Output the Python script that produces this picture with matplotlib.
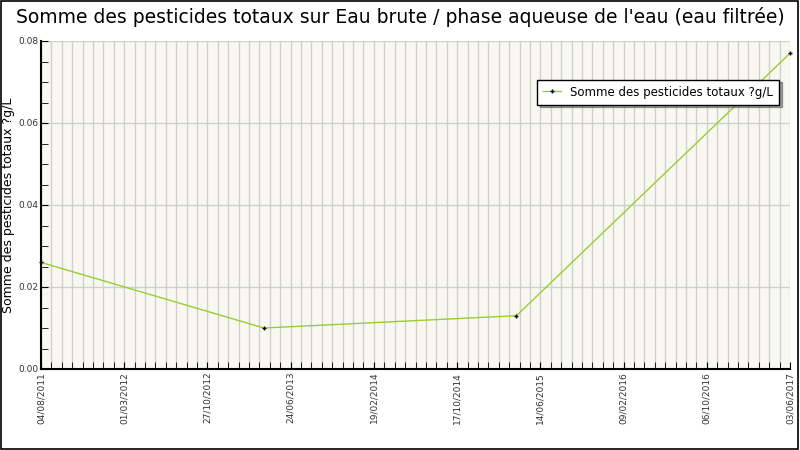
import matplotlib
matplotlib.use("Agg")
import matplotlib.pyplot as plt
import matplotlib.dates as mdates
import numpy as np

dates = ["2011-08-04", "2013-04-29", "2015-04-17", "2017-06-03"]
values = [0.026, 0.010, 0.013, 0.077]
series_name = "Somme des pesticides totaux ?g/L"
tick_labels = ["04/08/2011", "01/03/2012", "27/10/2012", "24/06/2013", "19/02/2014",
               "17/10/2014", "14/06/2015", "09/02/2016", "06/10/2016", "03/06/2017"]

x = [mdates.date2num(np.datetime64(d)) for d in dates]
start = mdates.date2num(np.datetime64("2011-08-04"))
end = mdates.date2num(np.datetime64("2017-06-03"))

fig = plt.figure(figsize=(8, 4.5), dpi=100)
fig.patch.set_facecolor("white")
fig.add_artist(plt.Rectangle((0.001, 0.002), 0.997, 0.996, transform=fig.transFigure,
                             fill=False, edgecolor="black", lw=1.2))
ax = fig.add_axes([41/800, 1-369/450, 749/800, 328/450])
ax.set_facecolor("#f8f8f0")
ax.plot(x, values, color="#9acd32", lw=1, marker="+", ms=3, mec="black", mew=1,
        label=series_name, clip_on=False)
ax.set_xlim(start, end)
ax.set_ylim(0, 0.08)
major = np.linspace(start, end, len(tick_labels))
ax.set_xticks(major)
ax.set_xticklabels(tick_labels, rotation=90, fontsize=6.5, color="#333333")
ax.set_xticks(np.linspace(start, end, 73), minor=True)
ax.set_yticks([0, 0.02, 0.04, 0.06, 0.08])
ax.set_yticklabels(["0.00", "0.02", "0.04", "0.06", "0.08"], fontsize=6.5, color="#333333")
ax.set_yticks(np.arange(0, 0.0801, 0.005), minor=True)
ax.grid(which="both", axis="x", color="#d0d0d0", lw=1)
ax.grid(which="major", axis="y", color="#d0d0d0", lw=1)
ax.tick_params(which="both", direction="in", length=5, color="black")
ax.tick_params(which="major", pad=2)
for s in ["top", "right"]:
    ax.spines[s].set_visible(False)
ax.spines["left"].set_linewidth(1.5)
ax.spines["bottom"].set_linewidth(1.5)
ax.set_ylabel(series_name, fontsize=9, labelpad=2)
fig.suptitle("Somme des pesticides totaux sur Eau brute / phase aqueuse de l'eau (eau filtrée)",
             fontsize=13.5, y=0.985)
leg = ax.legend(loc="upper right", bbox_to_anchor=(0.993, 0.9), fontsize=8.5,
                fancybox=False, edgecolor="black", shadow=True, framealpha=1,
                handlelength=1.5, borderpad=0.5)
leg.get_frame().set_linewidth(1)
fig.savefig("out.png", dpi=100)
